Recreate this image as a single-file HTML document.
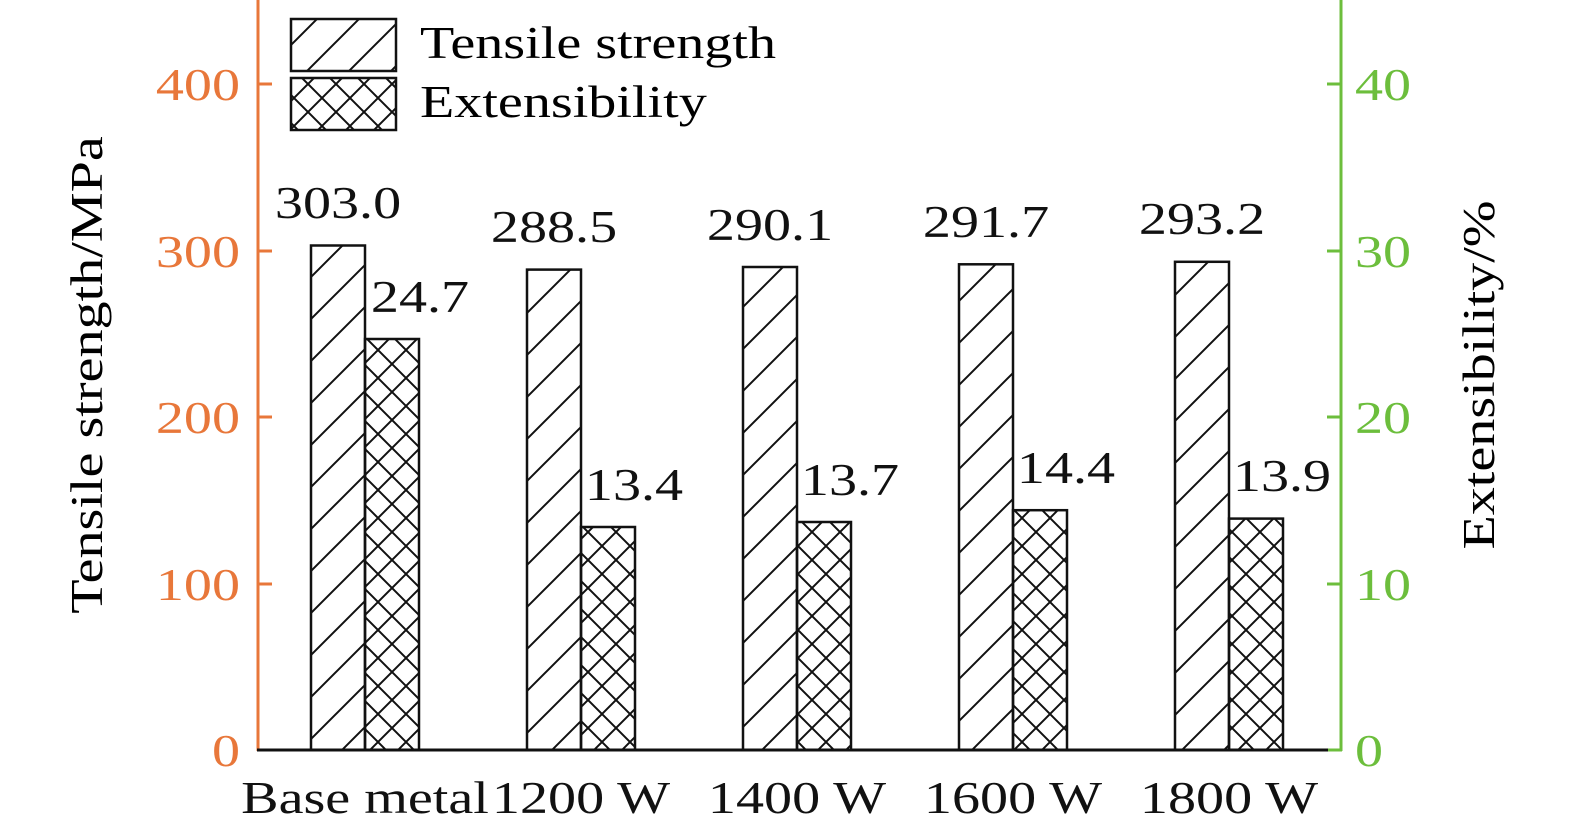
<!DOCTYPE html>
<html><head><style>body{margin:0;background:#fff}svg{display:block}</style></head><body>
<svg width="1575" height="833" xmlns="http://www.w3.org/2000/svg" font-family="'Liberation Serif',serif">
<defs>
<pattern id="h" patternUnits="userSpaceOnUse" width="42" height="42"><path d="M-10.5,10.5 l21,-21 M0,42 l42,-42 M31.5,52.5 l21,-21" stroke="#111" stroke-width="2"/></pattern>
<pattern id="x" patternUnits="userSpaceOnUse" width="28" height="28"><path d="M0,28 L28,0 M0,0 L28,28 M-7,7 l14,-14 M21,35 l14,-14 M-7,21 l14,14 M21,-7 l14,14" stroke="#111" stroke-width="2"/></pattern>
</defs>
<line x1="258" y1="0" x2="258" y2="751" stroke="#E8773A" stroke-width="3"/>
<line x1="1341" y1="0" x2="1341" y2="751" stroke="#6CBE3C" stroke-width="3"/>
<line x1="257" y1="750" x2="1328" y2="750" stroke="#111" stroke-width="3"/>
<line x1="1328" y1="750" x2="1342" y2="750" stroke="#6CBE3C" stroke-width="3"/>
<g stroke="#E8773A" stroke-width="3">
<line x1="258" y1="84" x2="272" y2="84"/><line x1="258" y1="251" x2="272" y2="251"/><line x1="258" y1="417" x2="272" y2="417"/><line x1="258" y1="584" x2="272" y2="584"/></g>
<g stroke="#6CBE3C" stroke-width="3">
<line x1="1327" y1="84" x2="1341" y2="84"/><line x1="1327" y1="251" x2="1341" y2="251"/><line x1="1327" y1="417" x2="1341" y2="417"/><line x1="1327" y1="584" x2="1341" y2="584"/></g>
<g font-size="46" fill="#E8773A" text-anchor="end">
<text transform="translate(240,100) scale(1.22,1)">400</text><text transform="translate(240,267) scale(1.22,1)">300</text><text transform="translate(240,433) scale(1.22,1)">200</text><text transform="translate(240,600) scale(1.22,1)">100</text><text transform="translate(240,766) scale(1.22,1)">0</text></g>
<g font-size="46" fill="#6CBE3C">
<text transform="translate(1355,100) scale(1.22,1)">40</text><text transform="translate(1355,267) scale(1.22,1)">30</text><text transform="translate(1355,433) scale(1.22,1)">20</text><text transform="translate(1355,600) scale(1.22,1)">10</text><text transform="translate(1355,766) scale(1.22,1)">0</text></g>
<text font-size="46" transform="translate(102,375) rotate(-90) scale(1.22,1)" text-anchor="middle">Tensile strength/MPa</text>
<text font-size="46" transform="translate(1494,375) rotate(-90) scale(1.22,1)" text-anchor="middle">Extensibility/%</text>
<g stroke="#111" stroke-width="2.5">
<rect x="311" y="245.5" width="54" height="504.5" fill="url(#h)"/><rect x="365" y="339" width="54" height="411" fill="url(#x)"/>
<rect x="527" y="269.6" width="54" height="480.4" fill="url(#h)"/><rect x="581" y="527" width="54" height="223" fill="url(#x)"/>
<rect x="743" y="267" width="54" height="483" fill="url(#h)"/><rect x="797" y="522" width="54" height="228" fill="url(#x)"/>
<rect x="959" y="264.3" width="54" height="485.7" fill="url(#h)"/><rect x="1013" y="510.2" width="54" height="239.8" fill="url(#x)"/>
<rect x="1175" y="261.8" width="54" height="488.2" fill="url(#h)"/><rect x="1229" y="518.6" width="54" height="231.4" fill="url(#x)"/>
</g>
<g font-size="46" fill="#111" text-anchor="middle">
<text transform="translate(338,218) scale(1.22,1)">303.0</text><text transform="translate(420,312) scale(1.22,1)">24.7</text>
<text transform="translate(554,242) scale(1.22,1)">288.5</text><text transform="translate(634,500) scale(1.22,1)">13.4</text>
<text transform="translate(770,240) scale(1.22,1)">290.1</text><text transform="translate(850,495) scale(1.22,1)">13.7</text>
<text transform="translate(986,237) scale(1.22,1)">291.7</text><text transform="translate(1066,483) scale(1.22,1)">14.4</text>
<text transform="translate(1202,234) scale(1.22,1)">293.2</text><text transform="translate(1282,491) scale(1.22,1)">13.9</text>
<text transform="translate(365,813) scale(1.22,1)">Base metal</text><text transform="translate(581,813) scale(1.22,1)">1200 W</text><text transform="translate(797,813) scale(1.22,1)">1400 W</text><text transform="translate(1013,813) scale(1.22,1)">1600 W</text><text transform="translate(1229,813) scale(1.22,1)">1800 W</text>
</g>
<rect x="291" y="19" width="105" height="52" fill="url(#h)" stroke="#111" stroke-width="2.5"/>
<rect x="291" y="78" width="105" height="52" fill="url(#x)" stroke="#111" stroke-width="2.5"/>
<text transform="translate(420,58) scale(1.22,1)" font-size="46">Tensile strength</text>
<text transform="translate(420,117) scale(1.22,1)" font-size="46">Extensibility</text>
</svg>
</body></html>
